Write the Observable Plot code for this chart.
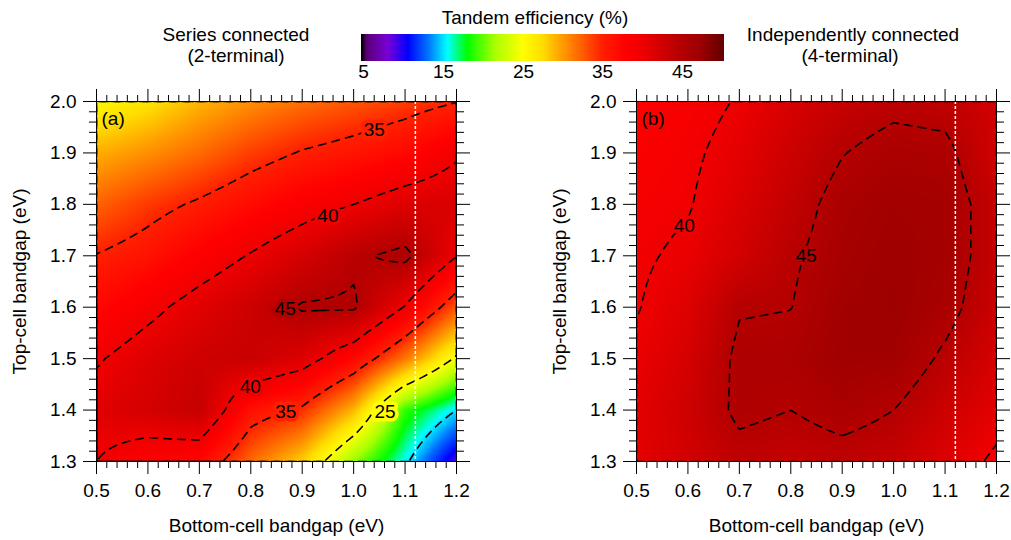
<!DOCTYPE html>
<html><head><meta charset="utf-8">
<script src="https://cdn.jsdelivr.net/npm/d3@7"></script>
<script src="https://cdn.jsdelivr.net/npm/@observablehq/plot@0.6"></script>
<style>
body{margin:0;background:#fff;}
#chart{position:relative;width:1011px;height:540px;overflow:hidden;font-family:"Liberation Sans",Arial,sans-serif;color:#000;background:#fff;}
.hdr{position:absolute;font-size:19px;line-height:19px;white-space:nowrap;transform:translateX(-50%);}
#cbar{position:absolute;left:351px;top:34px;}
#cbar svg line{display:none;}
#cbar svg text{font-size:19px;font-family:"Liberation Sans",Arial,sans-serif;fill:#000;}
#pa{position:absolute;left:0;top:88px;}
#pb{position:absolute;left:540px;top:88px;}
</style></head>
<body><div id="chart">
<div class="hdr" style="left:535px;top:8px">Tandem efficiency (%)</div>
<div class="hdr" style="left:236px;top:25px">Series connected</div>
<div class="hdr" style="left:236px;top:46px">(2-terminal)</div>
<div class="hdr" style="left:853px;top:25px">Independently connected</div>
<div class="hdr" style="left:850px;top:46px">(4-terminal)</div>
<div id="cbar"></div><div id="pa"></div><div id="pb"></div>
</div>
<script>
// ---- data ----
const bottomGap = [0.5, 0.6, 0.7, 0.8, 0.9, 1.0, 1.1, 1.2];   // eV (x)
const topGap    = [1.3, 1.4, 1.5, 1.6, 1.7, 1.8, 1.9, 2.0];   // eV (y)

// efficiency (%) rows follow topGap, columns follow bottomGap
const seriesEff = [
  [40.0, 38.0, 37.5, 32.0, 28.0, 21.0, 15.5,  9.0],
  [41.3, 42.3, 43.5, 36.5, 34.5, 29.0, 19.0, 15.0],
  [39.7, 41.5, 42.8, 43.3, 41.5, 37.5, 31.5, 24.5],
  [37.3, 39.2, 41.2, 43.0, 45.3, 45.4, 39.8, 32.9],
  [35.1, 36.3, 38.3, 40.2, 42.2, 44.5, 45.8, 40.1],
  [32.3, 34.0, 35.4, 37.0, 38.6, 40.0, 41.5, 42.0],
  [29.3, 30.5, 32.0, 33.8, 35.2, 36.1, 37.3, 39.6],
  [25.5, 27.0, 29.0, 30.5, 31.8, 32.8, 33.8, 34.9]
];
const independentEff = [
  [41.0, 42.5, 44.0, 43.5, 44.0, 43.5, 41.5, 39.5],
  [41.0, 42.8, 45.6, 45.0, 46.0, 45.0, 43.0, 41.0],
  [40.5, 42.3, 45.6, 45.8, 47.0, 46.8, 44.5, 42.0],
  [39.85, 41.5, 44.8, 44.95, 46.8, 47.3, 46.0, 43.0],
  [39.6, 40.5, 42.5, 44.6, 46.3, 47.2, 46.5, 43.5],
  [39.2, 39.8, 41.8, 43.8, 46.0, 46.8, 46.5, 43.5],
  [38.6, 39.5, 41.0, 43.0, 44.9, 46.0, 45.7, 42.5],
  [38.0, 39.0, 40.2, 42.0, 43.5, 44.3, 44.0, 42.5]
];

const seriesLevels = [15, 25, 35, 40, 45];
const independentLevels = [40, 45];

const seriesLabels = [
  {eb: 1.04, et: 1.944, level: 35},
  {eb: 0.95, et: 1.778, level: 40},
  {eb: 0.867, et: 1.596, level: 45},
  {eb: 0.799, et: 1.446, level: 40},
  {eb: 0.868, et: 1.397, level: 35},
  {eb: 1.061, et: 1.397, level: 25}
];
const independentLabels = [
  {eb: 0.593, et: 1.758, level: 40},
  {eb: 0.83, et: 1.699, level: 45}
];

const siliconGap = [1.12];
const xMajor = [0.5, 0.6, 0.7, 0.8, 0.9, 1.0, 1.1, 1.2];
const yMajor = [1.3, 1.4, 1.5, 1.6, 1.7, 1.8, 1.9, 2.0];
const legendTicks = [5, 15, 25, 35, 45];

// colour map (value -> colour)
const colorStops = [4.7, 5.3, 8, 10.5, 13, 15.5, 18, 21.5, 25, 27.5, 30, 35, 38, 40, 42, 45, 47.5, 50.3];
const colorRange = ["#000000", "#5a0078", "#7a00d8", "#0000ff", "#0070ff", "#00ffff", "#00ff00", "#aaff00",
                    "#ffff00", "#ffdd00", "#ff9c00", "#ff2000", "#ff0000", "#f00000", "#d80000", "#b40000", "#9c0000", "#640000"];

// ---- rendering ----
const FONT = '"Liberation Sans", Arial, sans-serif';
const lo = colorStops[0], hi = colorStops[colorStops.length - 1];
const valueColor = d3.scaleLinear().domain(colorStops).range(colorRange).interpolate(d3.interpolateRgb).clamp(true);
const colorOptions = {type: "linear", domain: [lo, hi], interpolate: t => valueColor(lo + t * (hi - lo))};

const near = (a, b) => Math.abs(a - b) < 1e-6;
const xMinor = d3.range(25, 61).map(i => i / 50).filter(v => !xMajor.some(m => near(m, v)));
const yMinor = d3.range(65, 101).map(i => i / 50).filter(v => !yMajor.some(m => near(m, v)));
const blank = () => "";

// bilinear interpolation over the regular sample grid (raster coordinates)
function bilinear(index, width, height, X, Y, V) {
  const key = v => Math.round(v * 1e4) / 1e4;
  const xs = Array.from(new Set(Array.from(index, i => key(X[i])))).sort((a, b) => a - b);
  const ys = Array.from(new Set(Array.from(index, i => key(Y[i])))).sort((a, b) => a - b);
  const grid = new Map();
  for (const i of index) grid.set(key(X[i]) + "," + key(Y[i]), +V[i]);
  const val = (a, b) => grid.get(xs[a] + "," + ys[b]);
  const seg = (arr, v) => Math.max(0, Math.min(arr.length - 2, d3.bisectRight(arr, v) - 1));
  const clamp01 = t => Math.max(0, Math.min(1, t));
  const W = new Float64Array(width * height);
  for (let py = 0; py < height; ++py) {
    const y = py + 0.5, b = seg(ys, y), ty = clamp01((y - ys[b]) / (ys[b + 1] - ys[b]));
    for (let px = 0; px < width; ++px) {
      const x = px + 0.5, a = seg(xs, x), tx = clamp01((x - xs[a]) / (xs[a + 1] - xs[a]));
      const v00 = val(a, b), v10 = val(a + 1, b), v01 = val(a, b + 1), v11 = val(a + 1, b + 1);
      W[py * width + px] = (1 - ty) * ((1 - tx) * v00 + tx * v10) + ty * ((1 - tx) * v01 + tx * v11);
    }
  }
  return W;
}

function rowsOf(eff) {
  return topGap.flatMap((et, i) => bottomGap.map((eb, j) => ({eb, et, eff: eff[i][j]})));
}

function panel(eff, levels, labels, tag, width, marginRight) {
  const rows = rowsOf(eff);
  return Plot.plot({
    width, height: 452,
    marginLeft: 96, marginRight, marginTop: 13, marginBottom: 79,
    x: {domain: [0.5, 1.2], label: null},
    y: {domain: [1.3, 2.0], label: null},
    color: colorOptions,
    style: {fontSize: "19px", fontFamily: FONT, color: "black", background: "transparent", overflow: "visible"},
    marks: [
      Plot.raster(rows, {x: "eb", y: "et", fill: "eff", interpolate: bilinear}),
      Plot.contour(rows, {x: "eb", y: "et", value: "eff", thresholds: levels, interpolate: bilinear,
        fill: "none", stroke: "black", strokeWidth: 1.6, strokeDasharray: "9,5", clip: true}),
      Plot.ruleX(siliconGap, {stroke: "white", strokeWidth: 1.5, strokeDasharray: "3,2"}),
      Plot.text(labels, {x: "eb", y: "et", text: d => String(d.level), fill: "black", stroke: "level", strokeWidth: 7, fontSize: 19}),
      Plot.text([tag], {frameAnchor: "top-left", dx: 5, dy: 10, fontSize: 19}),
      Plot.frame({stroke: "black", strokeWidth: 1}),
      Plot.axisX({ticks: xMajor, tickSize: 13, tickPadding: 9, tickFormat: ".1f", label: null}),
      Plot.axisX({ticks: xMinor, tickSize: 7, tickFormat: blank, label: null}),
      Plot.axisX({anchor: "top", ticks: xMajor, tickSize: 13, tickFormat: blank, label: null}),
      Plot.axisX({anchor: "top", ticks: xMinor, tickSize: 7, tickFormat: blank, label: null}),
      Plot.axisY({ticks: yMajor, tickSize: 13, tickPadding: 7, tickFormat: ".1f", label: null}),
      Plot.axisY({ticks: yMinor, tickSize: 7, tickFormat: blank, label: null}),
      Plot.axisY({anchor: "right", ticks: yMajor, tickSize: 13, tickFormat: blank, label: null}),
      Plot.axisY({anchor: "right", ticks: yMinor, tickSize: 7, tickFormat: blank, label: null}),
      Plot.text(["Bottom-cell bandgap (eV)"], {frameAnchor: "bottom", dy: 64.6, lineAnchor: "middle", fontSize: 19}),
      Plot.text(["Top-cell bandgap (eV)"], {frameAnchor: "left", dx: -77, rotate: -90, textAnchor: "middle", lineAnchor: "middle", fontSize: 19})
    ]
  });
}

document.getElementById("pa").append(panel(seriesEff, seriesLevels, seriesLabels, "(a)", 505, 49));
document.getElementById("pb").append(panel(independentEff, independentLevels, independentLabels, "(b)", 471, 15));

document.getElementById("cbar").append(Plot.legend({
  color: colorOptions,
  legend: "ramp",
  width: 383, height: 54,
  marginTop: 0, marginBottom: 27, marginLeft: 10, marginRight: 10,
  ticks: legendTicks, tickSize: 1, tickFormat: d => String(d),
  style: {fontSize: "19px", fontFamily: FONT, color: "black", background: "transparent"}
}));
</script>
</body></html>
